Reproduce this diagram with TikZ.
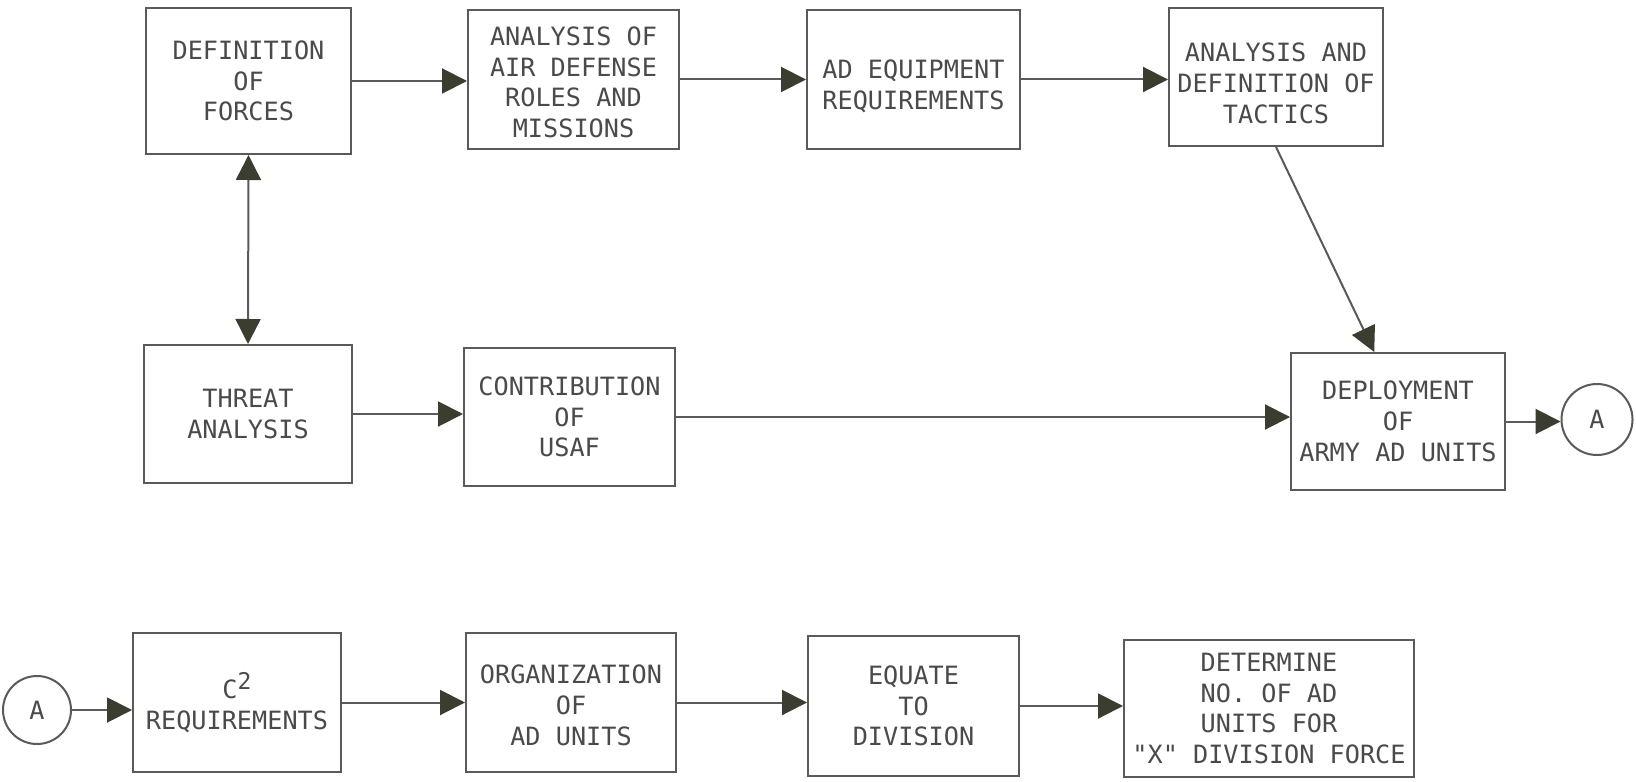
\documentclass[tikz,border=0pt]{standalone}
\usepackage{fontspec}
\newfontfamily\lab{DejaVu Sans Mono}
\usetikzlibrary{arrows.meta,calc}
\definecolor{ln}{HTML}{5A5A5A}
\definecolor{tip}{HTML}{3A3D30}
\definecolor{tx}{HTML}{4A4A4A}
\newcommand\dropby[2]{\raisebox{-#1}[\height][\depth]{\begin{tabular}{@{}c@{}}#2\end{tabular}}}
\begin{document}
\begin{tikzpicture}[x=0.5pt,y=-0.5pt,
  box/.style={draw=ln, line width=1pt, inner sep=1pt, align=center, text=tx,
    font=\lab\fontsize{12.6}{15.4}\selectfont},
  circ/.style={draw=ln, line width=1pt, circle, inner sep=0pt, text=tx,
    font=\lab\fontsize{12.6}{15.4}\selectfont},
  conn/.style={draw=ln, line width=1pt, -{Triangle[length=12.5pt,width=12.5pt,color=tip]}},
  dconn/.style={draw=ln, line width=1pt, {Triangle[length=12.5pt,width=12.5pt,color=tip]}-{Triangle[length=12.5pt,width=12.5pt,color=tip]}}
]
\fill[white] (0,0) rectangle (1636,781);
\useasboundingbox (0,0) rectangle (1636,781);

% row 1
\node[box, minimum width=102.5pt, minimum height=73pt] (def) at (248.5,81) {DEFINITION\\OF\\FORCES};
\node[box, minimum width=105.5pt, minimum height=69.5pt] (aad) at (573.5,79.5) {\dropby{2.9pt}{ANALYSIS OF\\AIR DEFENSE\\ROLES AND\\MISSIONS}};
\node[box, minimum width=106.5pt, minimum height=69.5pt] (adeq) at (913.5,79.5) {\dropby{4.2pt}{AD EQUIPMENT\\REQUIREMENTS}};
\node[box, minimum width=107pt, minimum height=69pt] (tac) at (1276,77) {\dropby{4.6pt}{ANALYSIS AND\\DEFINITION OF\\TACTICS}};

% row 2
\node[box, minimum width=104pt, minimum height=69pt] (threat) at (248,414) {THREAT\\ANALYSIS};
\node[box, minimum width=105.5pt, minimum height=69pt] (usaf) at (569.5,417) {CONTRIBUTION\\OF\\USAF};
\node[box, minimum width=107pt, minimum height=68.5pt] (dep) at (1398,421.5) {DEPLOYMENT\\OF\\ARMY AD UNITS};
\node[circ, minimum size=35.5pt] (Ar) at (1597,419.5) {A};

% row 3
\node[circ, minimum size=34pt] (Al) at (37,710) {A};
\node[box, minimum width=104pt, minimum height=69.5pt] (c2) at (237,702.5) {C\raisebox{4.5pt}{\fontsize{11.5}{11.5}\selectfont 2}\\REQUIREMENTS};
\node[box, minimum width=105pt, minimum height=69.5pt] (org) at (571,702.5) {\dropby{3pt}{ORGANIZATION\\OF\\AD UNITS}};
\node[box, minimum width=105.5pt, minimum height=70pt] (eq) at (913.5,706) {EQUATE\\TO\\DIVISION};
\node[box, minimum width=145pt, minimum height=68.5pt] (det) at (1269,708.5) {DETERMINE\\NO. OF AD\\UNITS FOR\\"X" DIVISION FORCE};

% connectors
\draw[conn] (def.east) -- (def.east -| aad.west);
\draw[conn] (aad.east) -- (aad.east -| adeq.west);
\draw[conn] (adeq.east) -- (adeq.east -| tac.west);
\draw[dconn] (def.south) -- (threat.north);
\draw[conn] (tac.south) -- ($(dep.north west)!0.39!(dep.north east)$);
\draw[conn] (threat.east) -- (threat.east -| usaf.west);
\draw[conn] (usaf.east) -- (usaf.east -| dep.west);
\draw[conn] (dep.east) -- (dep.east -| Ar.west);
\draw[conn] (Al.east) -- (Al.east -| c2.west);
\draw[conn] (c2.east) -- (c2.east -| org.west);
\draw[conn] (org.east) -- (org.east -| eq.west);
\draw[conn] (eq.east) -- (eq.east -| det.west);
\end{tikzpicture}
\end{document}
